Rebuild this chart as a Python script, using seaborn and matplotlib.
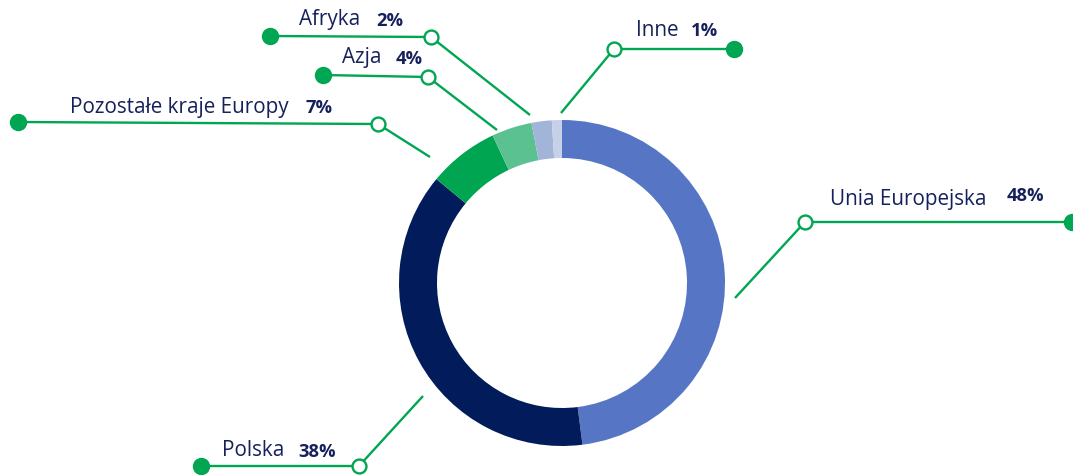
import matplotlib
matplotlib.use("Agg")
import matplotlib.pyplot as plt
import seaborn as sns

# dane
labels = ['Unia Europejska', 'Polska', 'Pozostałe kraje Europy', 'Azja', 'Afryka', 'Inne']
values = [48, 38, 7, 4, 2, 1]
colors = ['#5676C5', '#011B5B', '#00A551', '#5CC190', '#A2B4D8', '#C6D0E7']

# pozycje opisów (piksele, y od góry): start linii, kolano, kropka, tekst, procent
lead_start = [(735, 298), (423, 396), (430, 157), (497, 130), (530, 115), (561, 113)]
lead_knee = [(805, 222), (359, 466), (378, 124), (428, 77), (431, 37), (614, 49)]
lead_end = [(1072, 222), (201, 466), (18, 122), (323, 75), (270, 36), (734, 49)]
text_pos = [(830, 200), (222, 451), (70, 107), (342, 58), (299, 20), (636, 30)]
pct_pos = [(1007, 196), (298, 452), (305, 108), (396, 59), (376, 21), (691, 31)]

sns.set_theme(style='white')
plt.rcParams['font.family'] = ['Open Sans', 'DejaVu Sans']

W, H = 1073, 475
fig = plt.figure(figsize=(W / 100, H / 100), dpi=100)
ax = fig.add_axes([0, 0, 1, 1])

cx, cy, R = 562, 283, 163
ax.pie(values, colors=colors, radius=R, center=(cx, H - cy), startangle=90,
       counterclock=False, wedgeprops=dict(width=38, edgecolor='none'))

GREEN = '#00A651'
NAVY = '#16215C'
for i, lab in enumerate(labels):
    (x0, y0), (x1, y1), (x2, y2) = lead_start[i], lead_knee[i], lead_end[i]
    ax.plot([x0, x1, x2], [H - y0, H - y1, H - y2], color=GREEN, lw=1.7,
            solid_capstyle='butt', zorder=3)
    ax.plot([x2], [H - y2], 'o', color=GREEN, ms=11.5, zorder=4)
    ax.plot([x1], [H - y1], 'o', mfc='white', mec=GREEN, mew=1.7, ms=10, zorder=4)
    tx, ty = text_pos[i]
    ax.text(tx, H - ty, lab, ha='left', va='center', fontsize=14.9, color=NAVY)
    px, py = pct_pos[i]
    ax.text(px, H - py, f'{values[i]}%', ha='left', va='center', fontsize=13.2,
            fontweight='bold', color=NAVY)

ax.set_xlim(0, W)
ax.set_ylim(0, H)
ax.set_aspect('equal', adjustable='datalim')
ax.axis('off')

fig.savefig('out.png', dpi=100)
